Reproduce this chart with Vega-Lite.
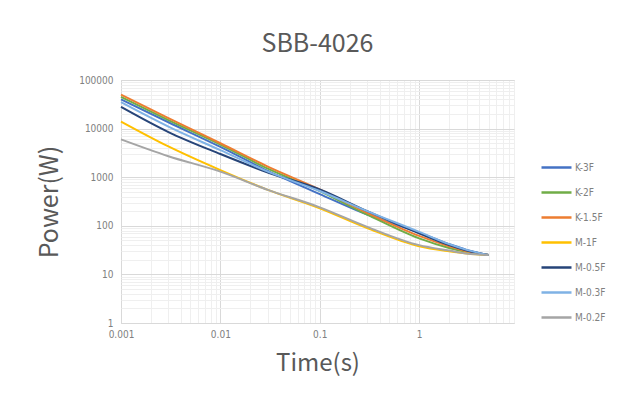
{
  "$schema": "https://vega.github.io/schema/vega-lite/v6.json",
  "autosize": "none",
  "width": 393,
  "height": 243,
  "padding": {"left": 121, "top": 80, "right": 107, "bottom": 77},
  "background": "white",
  "title": {"text": "SBB-4026", "fontSize": 25, "font": "Noto Sans CJK SC", "fontWeight": "normal", "color": "#595959", "anchor": "middle", "offset": 18},
  "data": {"values": [
    {"s": "K-3F", "t": 0.001, "p": 40000}, {"s": "K-3F", "t": 0.003, "p": 13500}, {"s": "K-3F", "t": 0.01, "p": 4200}, {"s": "K-3F", "t": 0.03, "p": 1350}, {"s": "K-3F", "t": 0.1, "p": 450}, {"s": "K-3F", "t": 0.3, "p": 170}, {"s": "K-3F", "t": 1, "p": 72}, {"s": "K-3F", "t": 2, "p": 42}, {"s": "K-3F", "t": 3, "p": 32}, {"s": "K-3F", "t": 5, "p": 25},
    {"s": "K-2F", "t": 0.001, "p": 45000}, {"s": "K-2F", "t": 0.003, "p": 15000}, {"s": "K-2F", "t": 0.01, "p": 4700}, {"s": "K-2F", "t": 0.03, "p": 1500}, {"s": "K-2F", "t": 0.1, "p": 520}, {"s": "K-2F", "t": 0.3, "p": 170}, {"s": "K-2F", "t": 1, "p": 55}, {"s": "K-2F", "t": 2, "p": 35}, {"s": "K-2F", "t": 3, "p": 29}, {"s": "K-2F", "t": 5, "p": 25},
    {"s": "K-1.5F", "t": 0.001, "p": 50000}, {"s": "K-1.5F", "t": 0.003, "p": 16500}, {"s": "K-1.5F", "t": 0.01, "p": 5000}, {"s": "K-1.5F", "t": 0.03, "p": 1650}, {"s": "K-1.5F", "t": 0.1, "p": 560}, {"s": "K-1.5F", "t": 0.3, "p": 185}, {"s": "K-1.5F", "t": 1, "p": 62}, {"s": "K-1.5F", "t": 2, "p": 38}, {"s": "K-1.5F", "t": 3, "p": 30}, {"s": "K-1.5F", "t": 5, "p": 25},
    {"s": "M-1F", "t": 0.001, "p": 14000}, {"s": "M-1F", "t": 0.003, "p": 4300}, {"s": "M-1F", "t": 0.01, "p": 1400}, {"s": "M-1F", "t": 0.03, "p": 550}, {"s": "M-1F", "t": 0.1, "p": 230}, {"s": "M-1F", "t": 0.3, "p": 90}, {"s": "M-1F", "t": 1, "p": 38}, {"s": "M-1F", "t": 2, "p": 30}, {"s": "M-1F", "t": 3, "p": 27}, {"s": "M-1F", "t": 5, "p": 25},
    {"s": "M-0.5F", "t": 0.001, "p": 28000}, {"s": "M-0.5F", "t": 0.003, "p": 8500}, {"s": "M-0.5F", "t": 0.01, "p": 3000}, {"s": "M-0.5F", "t": 0.03, "p": 1250}, {"s": "M-0.5F", "t": 0.1, "p": 560}, {"s": "M-0.5F", "t": 0.3, "p": 200}, {"s": "M-0.5F", "t": 1, "p": 70}, {"s": "M-0.5F", "t": 2, "p": 40}, {"s": "M-0.5F", "t": 3, "p": 31}, {"s": "M-0.5F", "t": 5, "p": 25},
    {"s": "M-0.3F", "t": 0.001, "p": 35000}, {"s": "M-0.3F", "t": 0.003, "p": 11000}, {"s": "M-0.3F", "t": 0.01, "p": 3600}, {"s": "M-0.3F", "t": 0.03, "p": 1300}, {"s": "M-0.3F", "t": 0.1, "p": 520}, {"s": "M-0.3F", "t": 0.3, "p": 200}, {"s": "M-0.3F", "t": 1, "p": 75}, {"s": "M-0.3F", "t": 2, "p": 42}, {"s": "M-0.3F", "t": 3, "p": 32}, {"s": "M-0.3F", "t": 5, "p": 25},
    {"s": "M-0.2F", "t": 0.001, "p": 6000}, {"s": "M-0.2F", "t": 0.003, "p": 2700}, {"s": "M-0.2F", "t": 0.01, "p": 1300}, {"s": "M-0.2F", "t": 0.03, "p": 550}, {"s": "M-0.2F", "t": 0.1, "p": 240}, {"s": "M-0.2F", "t": 0.3, "p": 95}, {"s": "M-0.2F", "t": 1, "p": 40}, {"s": "M-0.2F", "t": 2, "p": 31}, {"s": "M-0.2F", "t": 3, "p": 27}, {"s": "M-0.2F", "t": 5, "p": 25}
  ]},
  "mark": {"type": "line", "interpolate": "monotone", "strokeWidth": 2},
  "encoding": {
    "x": {"field": "t", "type": "quantitative",
      "scale": {"type": "log", "domain": [0.001, 9], "nice": false},
      "axis": {
        "title": "Time(s)", "titleFontSize": 24, "titleFont": "Noto Sans CJK SC", "titleFontWeight": "normal", "titleColor": "#595959", "titlePadding": 12,
        "values": [0.001,0.002,0.003,0.004,0.005,0.006,0.007,0.008,0.009,0.01,0.02,0.03,0.04,0.05,0.06,0.07,0.08,0.09,0.1,0.2,0.3,0.4,0.5,0.6,0.7,0.8,0.9,1,2,3,4,5,6,7,8,9],
        "labelExpr": "abs(log(datum.value)/LN10 - round(log(datum.value)/LN10)) < 0.001 ? toString(datum.value) : ''",
        "labelOverlap": false, "labelFlush": false, "labelFontSize": 10, "labelFont": "Liberation Sans Narrow, DejaVu Sans Condensed, sans-serif", "labelColor": "#808080", "labelPadding": 6,
        "ticks": false, "domain": false,
        "gridColor": {"condition": {"test": "abs(log(datum.value)/LN10 - round(log(datum.value)/LN10)) < 0.001", "value": "#d9d9d9"}, "value": "#efefef"},
        "gridWidth": 1
      }
    },
    "y": {"field": "p", "type": "quantitative",
      "scale": {"type": "log", "domain": [1, 100000], "nice": false},
      "axis": {
        "title": "Power(W)", "titleFontSize": 25, "titleFont": "Noto Sans CJK SC", "titleFontWeight": "normal", "titleColor": "#595959", "titlePadding": 16,
        "values": [1,2,3,4,5,6,7,8,9,10,20,30,40,50,60,70,80,90,100,200,300,400,500,600,700,800,900,1000,2000,3000,4000,5000,6000,7000,8000,9000,10000,20000,30000,40000,50000,60000,70000,80000,90000,100000],
        "labelExpr": "abs(log(datum.value)/LN10 - round(log(datum.value)/LN10)) < 0.001 ? toString(datum.value) : ''",
        "labelOverlap": false, "labelFlush": false, "labelFontSize": 10, "labelFont": "Liberation Sans Narrow, DejaVu Sans Condensed, sans-serif", "labelColor": "#808080", "labelPadding": 8,
        "ticks": false, "domain": false,
        "gridColor": {"condition": {"test": "abs(log(datum.value)/LN10 - round(log(datum.value)/LN10)) < 0.001", "value": "#d9d9d9"}, "value": "#efefef"},
        "gridWidth": 1
      }
    },
    "color": {"field": "s", "type": "nominal",
      "scale": {"domain": ["K-3F", "K-2F", "K-1.5F", "M-1F", "M-0.5F", "M-0.3F", "M-0.2F"],
                "range": ["#4472C4", "#70AD47", "#ED7D31", "#FFC000", "#264478", "#7FB2E5", "#A5A5A5"]},
      "legend": {"title": null, "orient": "none", "legendX": 424, "legendY": 76, "symbolType": "M-1.5,0H1.5", "symbolSize": 400, "symbolStrokeWidth": 2.5,
        "labelFontSize": 10, "labelFont": "Liberation Sans Narrow, DejaVu Sans Condensed, sans-serif", "labelColor": "#808080", "rowPadding": 8, "labelOffset": 7}
    }
  },
  "config": {"view": {"stroke": "#d9d9d9"}}
}
